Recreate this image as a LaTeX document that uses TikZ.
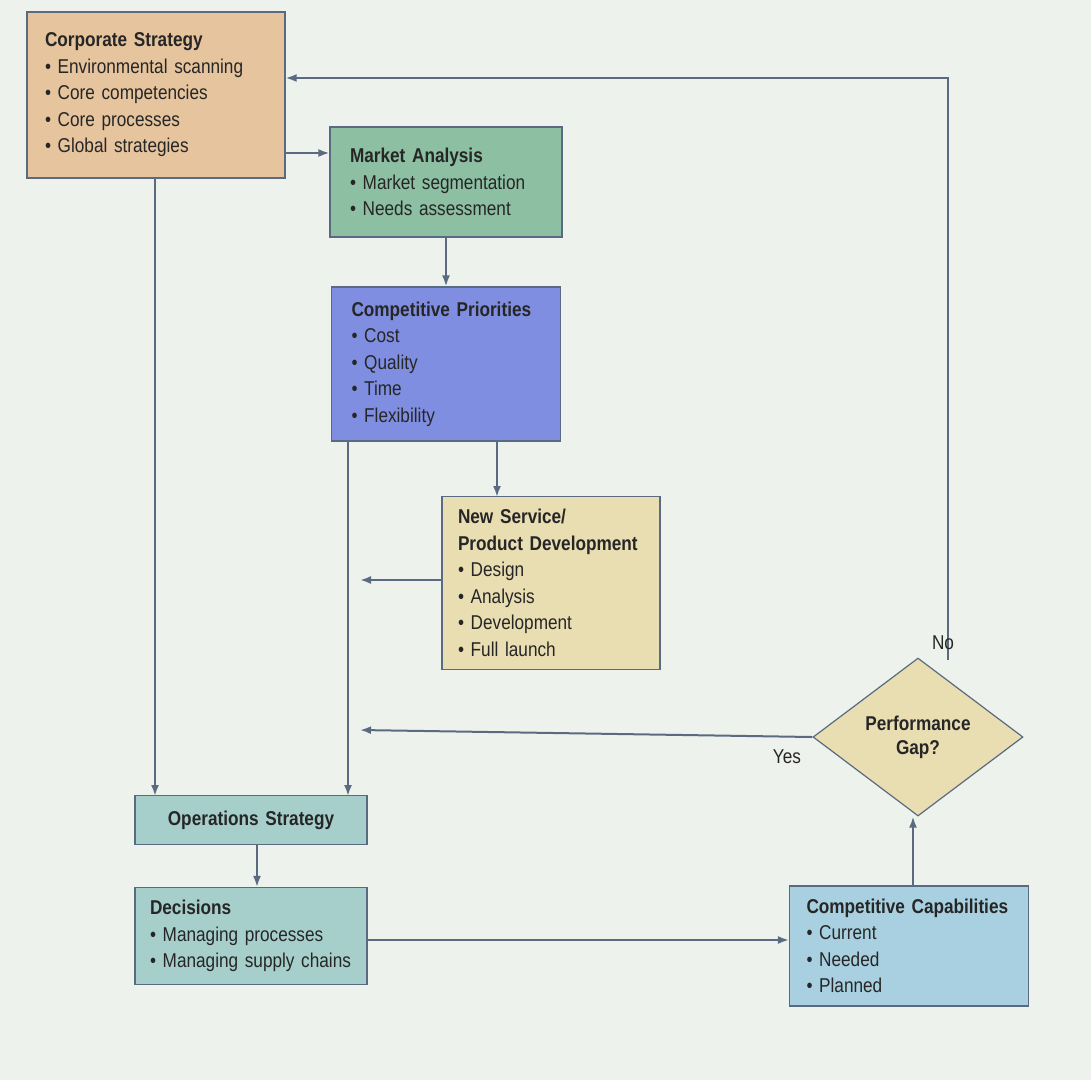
\documentclass[tikz,border=0pt]{standalone}
\usepackage{fontspec}
\setmainfont{Liberation Sans}[FakeStretch=0.86,WordSpace=0.75]
\usetikzlibrary{shapes.geometric,arrows.meta}
\definecolor{bgc}{HTML}{EEF2EC}
\definecolor{lnc}{HTML}{5A6A80}
\definecolor{corpc}{HTML}{E6C49E}
\definecolor{mktc}{HTML}{8DBFA2}
\definecolor{prioc}{HTML}{7F8EE0}
\definecolor{nsc}{HTML}{E9DDB2}
\definecolor{opsc}{HTML}{A6CFCC}
\definecolor{capc}{HTML}{A8D0E0}
\begin{document}
\begin{tikzpicture}[x=1pt,y=-1pt,
  box/.style={draw=lnc, line width=1.2pt, align=left, inner ysep=6pt, font=\fontsize{20}{26.5}\selectfont, text=black!85},
  arr/.style={draw=lnc, line width=2pt, -{Latex[length=11pt,width=8pt]}},
  lbl/.style={font=\fontsize{20}{24}\selectfont, text=black!85}]
\fill[bgc] (0,0) rectangle (1091,1080);
\useasboundingbox (0,0) rectangle (1091,1080);
\node[box, fill=corpc, minimum width=258, minimum height=166, text width=222, inner xsep=18] (corp) at (156,95)
 {\textbf{Corporate Strategy}\\ \textbullet\ Environmental scanning\\ \textbullet\ Core competencies\\ \textbullet\ Core processes\\ \textbullet\ Global strategies};
\node[box, fill=mktc, minimum width=232, minimum height=110, text width=192, inner xsep=20] (mkt) at (446,182)
 {\textbf{Market Analysis}\\ \textbullet\ Market segmentation\\ \textbullet\ Needs assessment};
\node[box, fill=prioc, minimum width=229, minimum height=154, text width=189, inner xsep=20] (prio) at (446,364)
 {\textbf{Competitive Priorities}\\ \textbullet\ Cost\\ \textbullet\ Quality\\ \textbullet\ Time\\ \textbullet\ Flexibility};
\node[box, fill=nsc, minimum width=218, minimum height=173, text width=186, inner xsep=16] (ns) at (551,583)
 {\textbf{New Service/}\\ \textbf{Product Development}\\ \textbullet\ Design\\ \textbullet\ Analysis\\ \textbullet\ Development\\ \textbullet\ Full launch};
\node[box, fill=opsc, minimum width=232, minimum height=49, text width=200, inner xsep=16, align=center] (ops) at (251,820)
 {\textbf{Operations Strategy}};
\node[box, fill=opsc, minimum width=232, minimum height=97, text width=202, inner xsep=15] (dec) at (251,936)
 {\textbf{Decisions}\\ \textbullet\ Managing processes\\ \textbullet\ Managing supply chains};
\node[box, fill=capc, minimum width=239, minimum height=120, text width=205, inner xsep=17] (cap) at (909,946)
 {\textbf{Competitive Capabilities}\\ \textbullet\ Current\\ \textbullet\ Needed\\ \textbullet\ Planned};
\node[draw=lnc, line width=1.2pt, fill=nsc, diamond, aspect=1.33, inner sep=0pt, minimum width=210, minimum height=158, align=center, font=\fontsize{20}{24}\selectfont\bfseries, text=black!85] (gap) at (918,737) {Performance\\Gap?};
% connectors
\draw[arr] (corp.east |- 0,153) -- (mkt.west |- 0,153);
\draw[arr] (155,178) -- (155,796);
\draw[arr] (mkt.south) -- (prio.north);
\draw[arr] (497,441) -- (497,497);
\draw[arr] (348,441) -- (348,796);
\coordinate (nsl) at (360,580);
\draw[arr] (ns.west |- nsl) -- (nsl);
\coordinate (yesend) at (360,730);
\draw[arr] (gap.west) -- (yesend);
\node[lbl] (yes) at (787,757) {Yes};
\coordinate (topr) at (948,78);
\draw[arr] (948,660) -- (topr) -- (corp.east |- topr);
\node[lbl] (no) at (943,643) {No};
\draw[arr] (dec.east |- 0,940) -- (cap.west |- 0,940);
\draw[arr] (cap.north -| 913,0) -- (gap.south -| 913,0);
\draw[arr] (ops.south -| 257,0) -- (dec.north -| 257,0);
\end{tikzpicture}
\end{document}
